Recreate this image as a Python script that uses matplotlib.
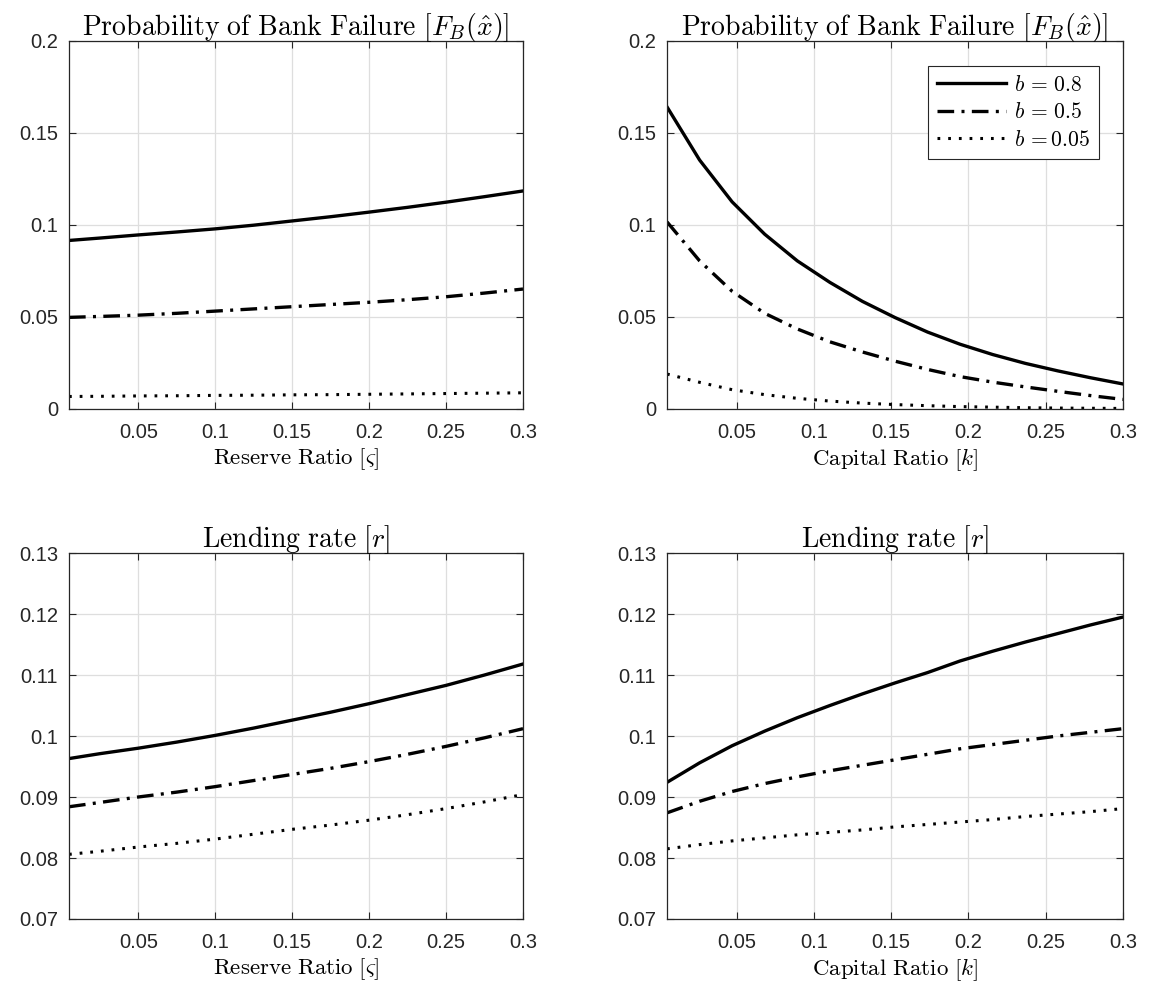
import matplotlib
matplotlib.use("Agg")
import matplotlib.pyplot as plt

plt.rcParams["mathtext.fontset"] = "cm"
plt.rcParams["font.family"] = ["Liberation Sans", "DejaVu Sans"]

# ---- data -------------------------------------------------------------
b_labels = [r"$b\,=\,0.8$", r"$b\,=\,0.5$", r"$b\,{=}0.05$"]

# reserve ratio grid (left column)
reserve = [0.005, 0.025, 0.05, 0.075, 0.10, 0.125, 0.15, 0.175, 0.20,
           0.225, 0.25, 0.275, 0.30]
fail_reserve_b08 = [0.0916, 0.0929, 0.0946, 0.0962, 0.0979, 0.0999, 0.1022,
                    0.1045, 0.1070, 0.1096, 0.1124, 0.1154, 0.1185]
fail_reserve_b05 = [0.0498, 0.0503, 0.0510, 0.0520, 0.0532, 0.0544, 0.0556,
                    0.0568, 0.0580, 0.0594, 0.0610, 0.0630, 0.0652]
fail_reserve_b005 = [0.0068, 0.0069, 0.0071, 0.0072, 0.0074, 0.0075, 0.0077,
                     0.0078, 0.0080, 0.0082, 0.0084, 0.0086, 0.0088]
rate_reserve_b08 = [0.0963, 0.0971, 0.0980, 0.0990, 0.1001, 0.1013, 0.1026,
                    0.1039, 0.1053, 0.1068, 0.1083, 0.1100, 0.1118]
rate_reserve_b05 = [0.0884, 0.0891, 0.0900, 0.0908, 0.0917, 0.0927, 0.0937,
                    0.0947, 0.0958, 0.0970, 0.0983, 0.0997, 0.1012]
rate_reserve_b005 = [0.0806, 0.0811, 0.0818, 0.0824, 0.0831, 0.0839, 0.0847,
                     0.0854, 0.0862, 0.0871, 0.0881, 0.0892, 0.0904]

# capital ratio grid (right column)
capital = [0.005, 0.0261, 0.0471, 0.0682, 0.0893, 0.1104, 0.1314, 0.1525,
           0.1736, 0.1946, 0.2157, 0.2368, 0.2579, 0.2789, 0.300]
fail_capital_b08 = [0.1642, 0.1353, 0.1126, 0.0950, 0.0805, 0.0688, 0.0585,
                    0.0497, 0.0418, 0.0352, 0.0296, 0.0248, 0.0207, 0.0170, 0.0136]
fail_capital_b05 = [0.1017, 0.0805, 0.0640, 0.0520, 0.0435, 0.0365, 0.0310,
                    0.0260, 0.0215, 0.0176, 0.0146, 0.0120, 0.0096, 0.0073, 0.0052]
fail_capital_b005 = [0.0190, 0.0145, 0.0105, 0.0078, 0.0058, 0.0043, 0.0032,
                     0.0024, 0.0018, 0.0013, 0.0010, 0.0007, 0.0005, 0.0004, 0.0003]
rate_capital_b08 = [0.0924, 0.0956, 0.0984, 0.1008, 0.1030, 0.1050, 0.1069,
                    0.1087, 0.1104, 0.1123, 0.1139, 0.1154, 0.1168, 0.1182, 0.1195]
rate_capital_b05 = [0.0874, 0.0893, 0.0909, 0.0922, 0.0933, 0.0943, 0.0952,
                    0.0961, 0.0970, 0.0979, 0.0986, 0.0993, 0.1000, 0.1006, 0.1012]
rate_capital_b005 = [0.0815, 0.0822, 0.0828, 0.0833, 0.0838, 0.0842, 0.0846,
                     0.0851, 0.0855, 0.0859, 0.0863, 0.0868, 0.0872, 0.0876, 0.0881]

xticks = [0.05, 0.10, 0.15, 0.20, 0.25, 0.30]
xtick_labels = ["0.05", "0.1", "0.15", "0.2", "0.25", "0.3"]
fail_yticks = [0, 0.05, 0.10, 0.15, 0.20]
fail_ytick_labels = ["0", "0.05", "0.1", "0.15", "0.2"]
rate_yticks = [0.07, 0.08, 0.09, 0.10, 0.11, 0.12, 0.13]
rate_ytick_labels = ["0.07", "0.08", "0.09", "0.1", "0.11", "0.12", "0.13"]

title_fail = r"$\mathrm{Probability\ of\ Bank\ Failure}\ [F_B(\hat{x})]$"
title_rate = r"$\mathrm{Lending\ rate}\ [r]$"
xlabel_reserve = r"$\mathrm{Reserve\ Ratio}\ [\varsigma]$"
xlabel_capital = r"$\mathrm{Capital\ Ratio}\ [k]$"

# ---- styling ------------------------------------------------------------
axis_col = "#262626"
styles = [
    dict(linestyle="-", linewidth=2.4),
    dict(linestyle=(0, (5.0, 2.2, 0.9, 2.2)), linewidth=2.4),
    dict(linestyle=(0, (0.9, 2.6)), linewidth=2.2),
]

fig = plt.figure(figsize=(11.53, 10.01), dpi=100)

W, H = 1153.0, 1001.0
def box(x0, x1, y0, y1):
    return [x0 / W, 1 - y1 / H, (x1 - x0) / W, (y1 - y0) / H]

ax_tl = fig.add_axes(box(69, 523, 41, 409))
ax_tr = fig.add_axes(box(667, 1123, 41, 409))
ax_bl = fig.add_axes(box(69, 523, 553, 919))
ax_br = fig.add_axes(box(667, 1123, 553, 919))

panels = [
    (ax_tl, reserve, [fail_reserve_b08, fail_reserve_b05, fail_reserve_b005],
     title_fail, xlabel_reserve, (0, 0.2), fail_yticks, fail_ytick_labels),
    (ax_tr, capital, [fail_capital_b08, fail_capital_b05, fail_capital_b005],
     title_fail, xlabel_capital, (0, 0.2), fail_yticks, fail_ytick_labels),
    (ax_bl, reserve, [rate_reserve_b08, rate_reserve_b05, rate_reserve_b005],
     title_rate, xlabel_reserve, (0.07, 0.13), rate_yticks, rate_ytick_labels),
    (ax_br, capital, [rate_capital_b08, rate_capital_b05, rate_capital_b005],
     title_rate, xlabel_capital, (0.07, 0.13), rate_yticks, rate_ytick_labels),
]

for ax, xs, series, title, xlabel, ylim, yt, ytl in panels:
    for ys, st, lab in zip(series, styles, b_labels):
        ax.plot(xs, ys, color="black", label=lab, **st)
    ax.set_xlim(0.005, 0.3)
    ax.set_ylim(*ylim)
    ax.set_xticks(xticks)
    ax.set_xticklabels(xtick_labels)
    ax.set_yticks(yt)
    ax.set_yticklabels(ytl)
    ax.grid(True, color="#dedede", linewidth=0.9)
    ax.set_axisbelow(True)
    ax.tick_params(direction="in", top=True, right=True, length=5,
                   width=0.8, color=axis_col, labelcolor=axis_col,
                   labelsize=14.5)
    ax.tick_params(axis="x", pad=10)
    ax.tick_params(axis="y", pad=8)
    for sp in ax.spines.values():
        sp.set_color(axis_col)
        sp.set_linewidth(0.9)
    ax.set_title(title, fontsize=20, pad=4, color="black")
    ax.set_xlabel(xlabel, fontsize=16.5, labelpad=3, color="black")

leg = ax_tr.legend(loc="upper right", bbox_to_anchor=(0.947, 0.932),
                   fontsize=15.5, frameon=True, fancybox=False,
                   edgecolor="#262626", framealpha=1.0, handlelength=3.2,
                   handletextpad=0.4, borderpad=0.4, labelspacing=0.3,
                   borderaxespad=0.0)
leg.get_frame().set_linewidth(0.8)

fig.savefig("out.png", dpi=100)
